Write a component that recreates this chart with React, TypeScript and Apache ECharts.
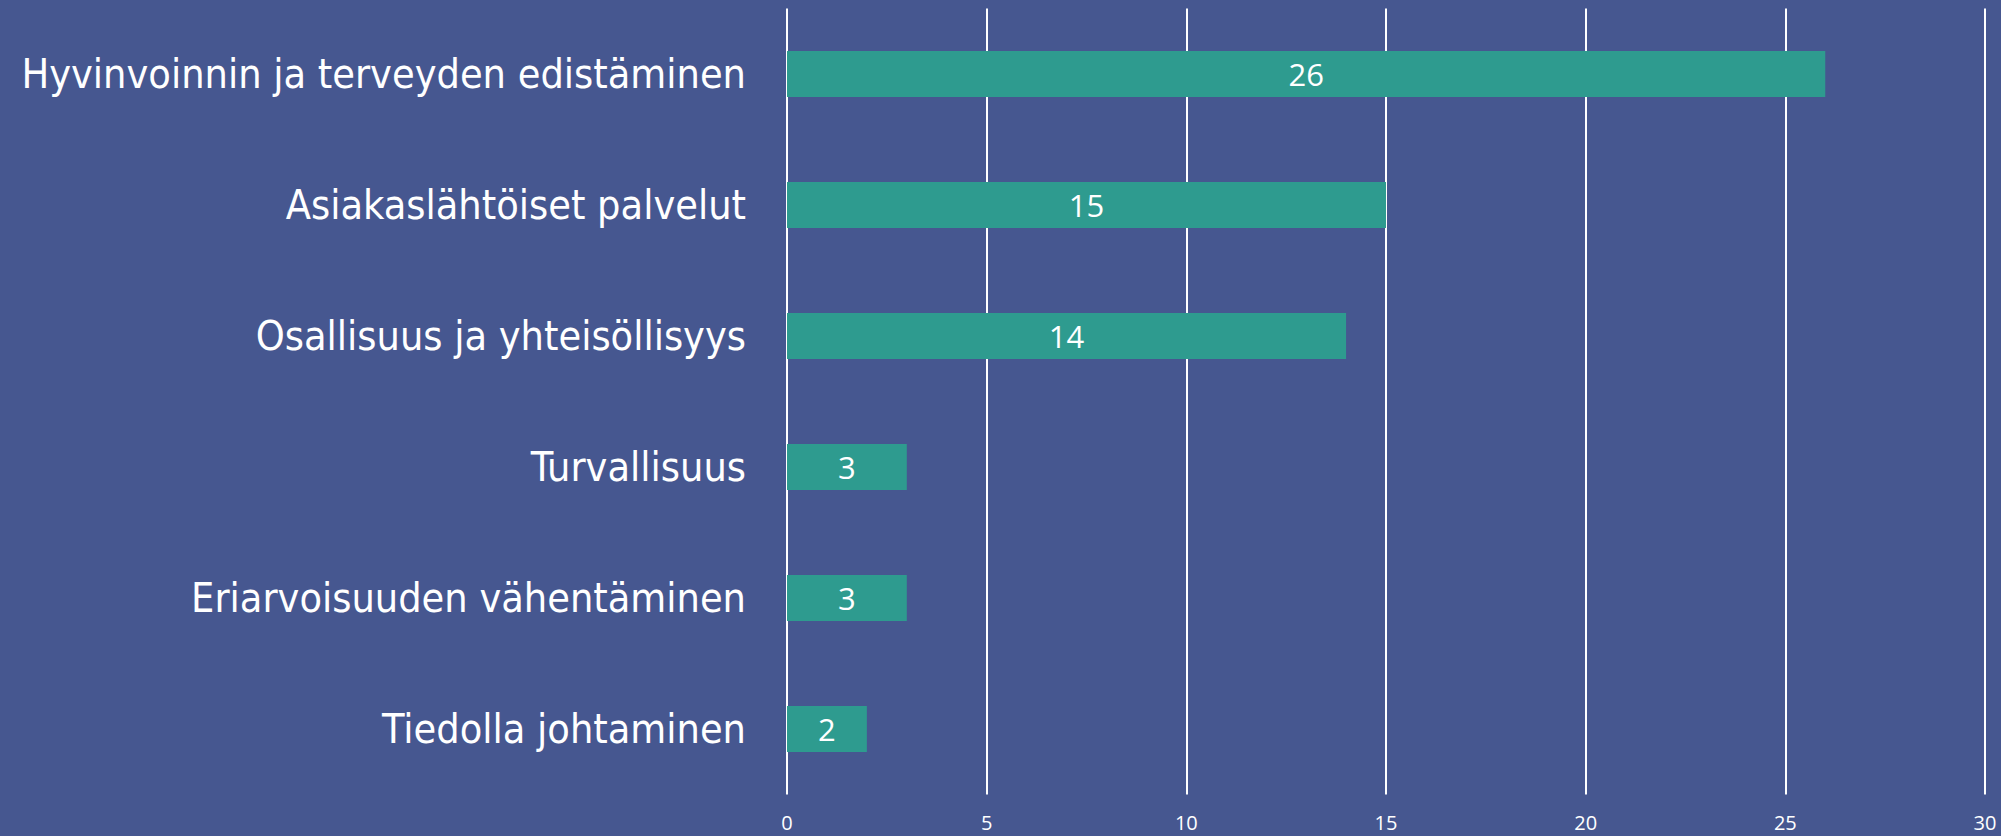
import React, { useEffect, useRef } from "react";
import * as echarts from "echarts";

const categories = [
  "Hyvinvoinnin ja terveyden edistäminen",
  "Asiakaslähtöiset palvelut",
  "Osallisuus ja yhteisöllisyys",
  "Turvallisuus",
  "Eriarvoisuuden vähentäminen",
  "Tiedolla johtaminen",
];
const values = [26, 15, 14, 3, 3, 2];
const xMin = 0;
const xMax = 30;
const xStep = 5;

export default function App() {
  const ref = useRef<HTMLDivElement>(null);
  useEffect(() => {
    if (!ref.current) return;
    const chart = echarts.init(ref.current, null, { renderer: "svg" });
    chart.setOption({
      animation: false,
      backgroundColor: "#465790",
      grid: {
        left: 787,
        right: 16,
        top: 8.5,
        bottom: 41.5,
        containLabel: false,
        outerBoundsMode: "none",
      },
      xAxis: {
        type: "value",
        min: xMin,
        max: xMax,
        interval: xStep,
        axisLine: { show: false },
        axisTick: { show: false },
        splitLine: { show: true, lineStyle: { color: "#ffffff", width: 2 } },
        axisLabel: {
          color: "#ffffff",
          fontSize: 20,
          lineHeight: 16,
          fontFamily: "Open Sans",
          margin: 20,
        },
      },
      yAxis: {
        type: "category",
        data: categories,
        inverse: true,
        axisLine: { show: false },
        axisTick: { show: false },
        axisLabel: {
          color: "#ffffff",
          fontSize: 41,
          fontFamily: "'DejaVu Sans Condensed', sans-serif",
          margin: 41,
        },
      },
      series: [
        {
          type: "bar",
          data: values,
          barWidth: 46,
          itemStyle: { color: "#2E9B8F" },
          label: {
            show: true,
            position: "inside",
            color: "#ffffff",
            fontSize: 31,
            fontFamily: "Open Sans",
          },
        },
      ],
    });
    return () => chart.dispose();
  }, []);
  return <div ref={ref} style={{ width: 2001, height: 836, position: "absolute", left: 0, top: 0 }} />;
}
